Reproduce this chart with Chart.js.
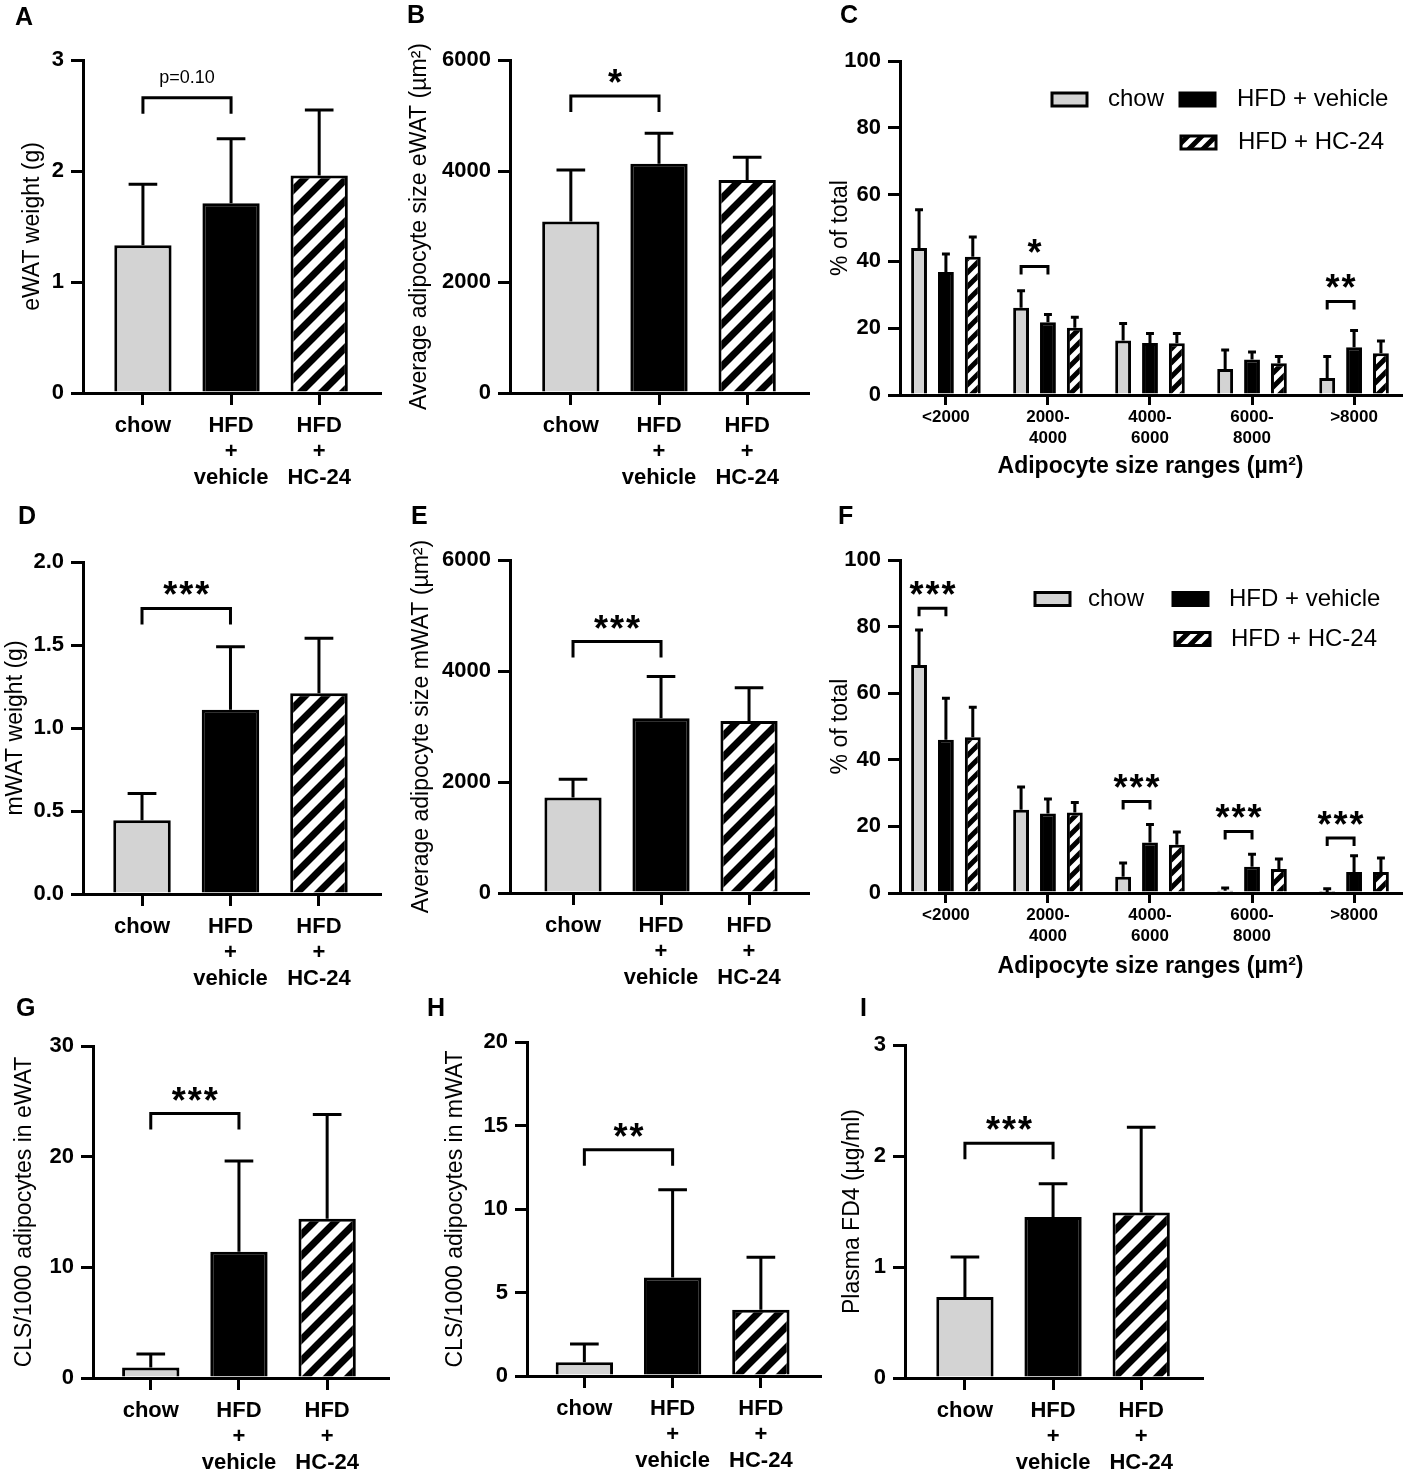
<!DOCTYPE html>
<html>
<head>
<meta charset="utf-8">
<script src="https://cdn.jsdelivr.net/npm/chart.js@4.4.1/dist/chart.umd.min.js"></script>
<style>
  body { margin: 0; background: #fff; }
  #fig { position: relative; width: 1403px; height: 1472px; font-family: "Liberation Sans", Arial, sans-serif; }
  #fig canvas { position: absolute; }
  .letter { position: absolute; font-weight: bold; font-size: 25px; line-height: 1; }
</style>
</head>
<body>
<div id="fig"></div>
<script>
// categories
const groups = ['chow', ['HFD', '+', 'vehicle'], ['HFD', '+', 'HC-24']];
const series = ['chow', 'HFD + vehicle', 'HFD + HC-24'];
const sizeRanges = ['<2000', ['2000-', '4000'], ['4000-', '6000'], ['6000-', '8000'], '>8000'];

// A  eWAT weight
const ewatWeight = [1.33, 1.71, 1.96];
const ewatWeightErr = [0.55, 0.58, 0.59];
// B  eWAT adipocyte size
const ewatSize = [3090, 4130, 3840];
const ewatSizeErr = [930, 550, 410];
// C  eWAT size distribution (% of total)
const ewatChow = [44.0, 26.1, 16.3, 7.8, 5.1];
const ewatChowErr = [11.5, 5.1, 5.1, 5.7, 6.4];
const ewatVehicle = [36.8, 21.8, 15.6, 10.6, 14.3];
const ewatVehicleErr = [5.4, 2.3, 2.8, 2.3, 5.0];
const ewatHc24 = [41.4, 20.1, 15.5, 9.5, 12.5];
const ewatHc24Err = [5.9, 3.2, 2.9, 2.0, 3.7];
// D  mWAT weight
const mwatWeight = [0.445, 1.11, 1.21];
const mwatWeightErr = [0.16, 0.38, 0.33];
// E  mWAT adipocyte size
const mwatSize = [1720, 3150, 3100];
const mwatSizeErr = [330, 750, 600];
// F  mWAT size distribution
const mwatChow = [68.5, 25.0, 4.9, 0.7, 0.3];
const mwatChowErr = [10.5, 6.8, 4.1, 0.8, 1.0];
const mwatVehicle = [46.0, 23.9, 15.2, 7.9, 6.3];
const mwatVehicleErr = [12.5, 4.3, 5.4, 3.7, 4.9];
const mwatHc24 = [46.8, 24.2, 14.5, 7.2, 6.3];
const mwatHc24Err = [9.0, 3.0, 3.8, 3.0, 4.2];
// G  CLS eWAT
const clsEwat = [0.96, 11.4, 14.4];
const clsEwatErr = [1.2, 8.2, 9.4];
// H  CLS mWAT
const clsMwat = [0.82, 5.9, 3.96];
const clsMwatErr = [1.1, 5.25, 3.15];
// I  plasma FD4
const plasmaFd4 = [0.73, 1.45, 1.49];
const plasmaFd4Err = [0.36, 0.30, 0.77];

// significance brackets (y in data units)
const sigA = [{ y: 2.66, text: 'p=0.10' }];
const sigB = [{ y: 5350, text: '*' }];
const sigC = [{ at: 1, y: 38.5, text: '*' }, { at: 4, y: 28, text: '**' }];
const sigD = [{ y: 1.72, text: '***' }];
const sigE = [{ y: 4530, text: '***' }];
const sigF = [{ at: 0, y: 85.5, text: '***' }, { at: 2, y: 27.5, text: '***' }, { at: 3, y: 18.5, text: '***' }, { at: 4, y: 16.5, text: '***' }];
const sigG = [{ y: 23.9, text: '***' }];
const sigH = [{ y: 13.55, text: '**' }];
const sigI = [{ y: 2.115, text: '***' }];

const FONT = '"Liberation Sans", Arial, sans-serif';
const GRAY = '#d3d3d3';
Chart.defaults.font.family = FONT;
Chart.defaults.color = '#000';

const fig = document.getElementById('fig');

function hatch(s, w) {
  const c = document.createElement('canvas');
  c.width = c.height = s;
  const g = c.getContext('2d');
  g.fillStyle = '#fff';
  g.fillRect(0, 0, s, s);
  g.strokeStyle = '#000';
  g.lineWidth = w;
  g.beginPath();
  g.moveTo(-6, s + 6); g.lineTo(s + 6, -6);
  g.moveTo(-6, 6); g.lineTo(6, -6);
  g.moveTo(s - 6, s + 6); g.lineTo(s + 6, s - 6);
  g.stroke();
  return g.createPattern(c, 'repeat');
}

function addCanvas(box) {
  const cv = document.createElement('canvas');
  cv.width = box[2];
  cv.height = box[3];
  cv.style.left = box[0] + 'px';
  cv.style.top = box[1] + 'px';
  fig.appendChild(cv);
  return cv;
}

function addLetter(t, pos) {
  const d = document.createElement('div');
  d.className = 'letter';
  d.textContent = t;
  d.style.left = pos[0] + 'px';
  d.style.top = pos[1] + 'px';
  fig.appendChild(d);
}

const errPlugin = {
  id: 'errs',
  afterDatasetsDraw(chart) {
    const ctx = chart.ctx, y = chart.scales.y;
    chart.data.datasets.forEach((ds, di) => {
      chart.getDatasetMeta(di).data.forEach((bar, i) => {
        const top = y.getPixelForValue(ds.data[i].y + ds.err[i]);
        const cap = bar.width * 0.5;
        ctx.save();
        ctx.strokeStyle = '#000';
        ctx.lineWidth = 3;
        ctx.beginPath();
        ctx.moveTo(bar.x, bar.y);
        ctx.lineTo(bar.x, top);
        ctx.moveTo(bar.x - cap / 2, top);
        ctx.lineTo(bar.x + cap / 2, top);
        ctx.stroke();
        ctx.restore();
      });
    });
  }
};

function drawMark(ctx, text, cx, cy) {
  ctx.fillStyle = '#000';
  ctx.textAlign = 'center';
  if (/^\*+$/.test(text)) {
    ctx.font = 'bold 36px ' + FONT;
    ctx.textBaseline = 'alphabetic';
    const m = ctx.measureText('*');
    const base = cy + (m.actualBoundingBoxAscent - m.actualBoundingBoxDescent) / 2;
    for (let i = 0; i < text.length; i++) {
      ctx.fillText('*', cx + (i - (text.length - 1) / 2) * 16, base);
    }
  } else {
    ctx.font = '18px ' + FONT;
    ctx.textBaseline = 'middle';
    ctx.fillText(text, cx, cy);
  }
}

function sigPlugin(sigs, grouped) {
  const drop = grouped ? 8 : 16;
  return {
    id: 'sig',
    afterDraw(chart) {
      const ctx = chart.ctx, y = chart.scales.y;
      sigs.forEach(s => {
        let x1, x2;
        if (grouped) {
          x1 = chart.getDatasetMeta(0).data[s.at].x;
          x2 = chart.getDatasetMeta(1).data[s.at].x;
        } else {
          x1 = chart.getDatasetMeta(0).data[0].x;
          x2 = chart.getDatasetMeta(0).data[1].x;
        }
        const yy = y.getPixelForValue(s.y);
        ctx.save();
        ctx.strokeStyle = '#000';
        ctx.lineWidth = 3;
        ctx.lineJoin = 'miter';
        ctx.beginPath();
        ctx.moveTo(x1, yy + drop);
        ctx.lineTo(x1, yy);
        ctx.lineTo(x2, yy);
        ctx.lineTo(x2, yy + drop);
        ctx.stroke();
        drawMark(ctx, s.text, (x1 + x2) / 2, yy - 20);
        ctx.restore();
      });
    }
  };
}

function legendPlugin(p, fills) {
  return {
    id: 'boxes',
    afterDraw(chart) {
      const ctx = chart.ctx;
      const ox = p.box[0], oy = p.box[1];
      series.forEach((name, i) => {
        const cy = p.legend.rows[p.legend.row[i]] - oy;
        const bx = p.legend.boxX[i] - ox;
        ctx.save();
        ctx.fillStyle = fills[i];
        ctx.fillRect(bx, cy - 6.5, 35, 13);
        ctx.strokeStyle = '#000';
        ctx.lineWidth = 3;
        ctx.strokeRect(bx, cy - 6.5, 35, 13);
        ctx.fillStyle = '#000';
        ctx.font = '24px ' + FONT;
        ctx.textAlign = 'left';
        ctx.textBaseline = 'middle';
        ctx.fillText(name, p.legend.textX[i] - ox, cy);
        ctx.restore();
      });
    }
  };
}

function buildChart(p) {
  const [cl, ct, cw, ch] = p.box;
  const [L, T, R, B] = p.area;
  const grouped = !!p.grouped;
  const labels = grouped ? sizeRanges : groups;
  const fills = [GRAY, '#000', grouped ? hatch(14, 5) : hatch(21, 7)];
  const cv = addCanvas(p.box);
  addLetter(p.letter, p.letterPos);

  let datasets;
  if (grouped) {
    datasets = series.map((name, si) => ({
      label: name,
      data: p.values[si].map((v, g) => ({ x: g, y: v })),
      err: p.errors[si],
      backgroundColor: fills[si],
      borderColor: '#000',
      borderWidth: 3,
      categoryPercentage: 0.79,
      barPercentage: 0.59
    }));
  } else {
    datasets = [{
      data: p.values.map((v, i) => ({ x: i, y: v })),
      err: p.errors,
      backgroundColor: fills,
      borderColor: '#000',
      borderWidth: 3,
      categoryPercentage: 1,
      barPercentage: 0.65
    }];
  }

  const xScale = {
    type: 'linear',
    bounds: 'data',
    offset: false,
    min: p.xr[0],
    max: p.xr[1],
    afterBuildTicks: s => { s.ticks = labels.map((_, i) => ({ value: i })); },
    afterFit: s => { s.height = ct + ch - B; },
    ticks: {
      callback: v => labels[v],
      font: grouped ? { size: 17, weight: 'bold', lineHeight: 21 / 17 } : { size: 22, weight: 'bold', lineHeight: 26 / 22 },
      padding: grouped ? 2 : 8,
      maxRotation: 0,
      autoSkip: false,
      color: '#000'
    },
    grid: { offset: false, drawOnChartArea: false, tickLength: grouped ? 10 : 12, color: '#000', lineWidth: 3 },
    border: { color: '#000', width: 3 }
  };
  if (grouped) {
    xScale.title = {
      display: true,
      text: 'Adipocyte size ranges (µm²)',
      font: { size: 23, weight: 'bold' },
      color: '#000',
      padding: { top: 0, bottom: p.xTitlePad }
    };
  }

  const yScale = {
    type: 'linear',
    bounds: 'data',
    min: 0,
    max: p.yMax,
    afterFit: s => { s.width = L - cl; },
    ticks: {
      stepSize: p.yStep,
      callback: p.fmt || (v => String(v)),
      font: { size: 22, weight: 'bold' },
      padding: 7,
      color: '#000'
    },
    grid: { drawOnChartArea: false, tickLength: 12, color: '#000', lineWidth: 3 },
    border: { color: '#000', width: 3 },
    title: {
      display: true,
      text: p.yTitle,
      font: { size: 23 },
      color: '#000',
      padding: { top: p.titleX - cl - 13.8, bottom: 0 }
    }
  };

  const plugins = [errPlugin, sigPlugin(p.sig, grouped)];
  if (grouped) plugins.push(legendPlugin(p, fills));

  new Chart(cv, {
    type: 'bar',
    data: { datasets },
    options: {
      responsive: false,
      animation: false,
      devicePixelRatio: 1,
      events: [],
      layout: { padding: { left: 0, top: T - ct, right: cl + cw - R, bottom: 0 } },
      scales: { x: xScale, y: yScale },
      plugins: { legend: { display: false }, tooltip: { enabled: false } }
    },
    plugins
  });
}

const legendC = { rows: [99.5, 142.5], row: [0, 0, 1], boxX: [1052, 1180, 1181], textX: [1108, 1237, 1238] };
const legendF = { rows: [599, 639], row: [0, 0, 1], boxX: [1035, 1173, 1175], textX: [1088, 1229, 1231] };

buildChart({ letter: 'A', letterPos: [15, 4], box: [0, 0, 400, 495], area: [83, 60, 380, 393], xr: [-0.68, 2.69],
  yMax: 3, yStep: 1, yTitle: 'eWAT weight (g)', titleX: 33, values: ewatWeight, errors: ewatWeightErr, sig: sigA });
buildChart({ letter: 'B', letterPos: [407, 2], box: [395, 0, 425, 495], area: [510, 60, 808, 393], xr: [-0.69, 2.69],
  yMax: 6000, yStep: 2000, yTitle: 'Average adipocyte size eWAT (µm²)', titleX: 420, values: ewatSize, errors: ewatSizeErr, sig: sigB });
buildChart({ letter: 'C', letterPos: [840, 2], box: [820, 0, 583, 495], area: [900, 61, 1401, 395], xr: [-0.45, 4.46], grouped: true,
  yMax: 100, yStep: 20, yTitle: '% of total', titleX: 841, xTitlePad: 14.2, legend: legendC,
  values: [ewatChow, ewatVehicle, ewatHc24], errors: [ewatChowErr, ewatVehicleErr, ewatHc24Err], sig: sigC });
buildChart({ letter: 'D', letterPos: [18, 503], box: [0, 497, 400, 495], area: [83, 562, 380, 894], xr: [-0.667, 2.69],
  yMax: 2, yStep: 0.5, fmt: v => v.toFixed(1), yTitle: 'mWAT weight (g)', titleX: 16, values: mwatWeight, errors: mwatWeightErr, sig: sigD });
buildChart({ letter: 'E', letterPos: [411, 503], box: [395, 497, 425, 495], area: [510, 560, 808, 893], xr: [-0.716, 2.67],
  yMax: 6000, yStep: 2000, yTitle: 'Average adipocyte size mWAT (µm²)', titleX: 422, values: mwatSize, errors: mwatSizeErr, sig: sigE });
buildChart({ letter: 'F', letterPos: [838, 503], box: [820, 497, 583, 495], area: [900, 560, 1401, 893], xr: [-0.45, 4.46], grouped: true,
  yMax: 100, yStep: 20, yTitle: '% of total', titleX: 841, xTitlePad: 11.2, legend: legendF,
  values: [mwatChow, mwatVehicle, mwatHc24], errors: [mwatChowErr, mwatVehicleErr, mwatHc24Err], sig: sigF });
buildChart({ letter: 'G', letterPos: [16, 995], box: [0, 990, 420, 482], area: [93, 1046, 388, 1378], xr: [-0.655, 2.69],
  yMax: 30, yStep: 10, yTitle: 'CLS/1000 adipocytes in eWAT', titleX: 25, values: clsEwat, errors: clsEwatErr, sig: sigG });
buildChart({ letter: 'H', letterPos: [427, 995], box: [430, 990, 410, 482], area: [527, 1042, 820, 1376], xr: [-0.65, 2.67],
  yMax: 20, yStep: 5, yTitle: 'CLS/1000 adipocytes in mWAT', titleX: 456, values: clsMwat, errors: clsMwatErr, sig: sigH });
buildChart({ letter: 'I', letterPos: [860, 995], box: [830, 990, 400, 482], area: [905, 1045, 1202, 1378], xr: [-0.68, 2.69],
  yMax: 3, yStep: 1, yTitle: 'Plasma FD4 (µg/ml)', titleX: 853, values: plasmaFd4, errors: plasmaFd4Err, sig: sigI });
</script>
</body>
</html>
